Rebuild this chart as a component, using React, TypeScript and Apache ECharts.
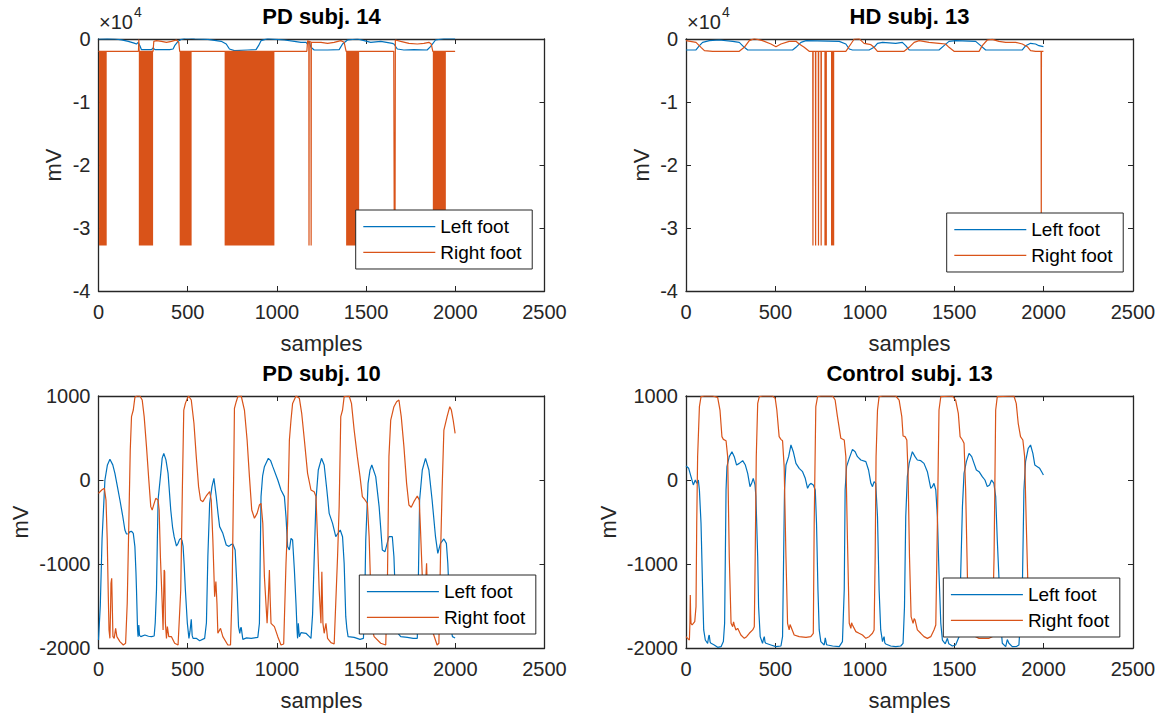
import React, { useEffect, useRef } from 'react';
import * as echarts from 'echarts';

const FONT = '"Liberation Sans", Arial, Helvetica, sans-serif';
const BLUE = '#0072BD';
const ORANGE = '#D95319';
const AX = '#262626';

const titles = ['PD subj. 14', 'HD subj. 13', 'PD subj. 10', 'Control subj. 13'];
const seriesNames = ['Left foot', 'Right foot'];
const xLabel = 'samples';
const yLabel = 'mV';
const xTicks = { min: 0, max: 2500, interval: 500 };
const yTicksTop = { min: -40000, max: 0, interval: 10000 };
const yTicksBottom = { min: -2000, max: 1000, interval: 1000 };
const topExponent = 4;

// PD subj. 14
const pd14Left: number[][] = [
  [0, 0], [50, 50], [92, 0], [130, -150], [167, -370], [200, -650], [213, -800], [222, -528], [232, -1058], [241, -1692],
  [297, -1692], [306, -1428], [316, -1692], [399, -1692], [418, -1586], [427, -1058], [446, -370], [465, -52], [492, 159],
  [539, 53], [613, -52], [688, -370], [716, -793], [734, -1586], [762, -1851], [837, -1745], [883, -1692], [897, -1058],
  [911, -264], [949, 53], [995, -52], [1042, -158], [1098, -370], [1135, -528], [1163, -528], [1172, -793], [1181, -370],
  [1191, -1322], [1209, -1745], [1284, -1745], [1349, -1692], [1368, -793], [1396, -158], [1451, 0], [1489, -264],
  [1526, -528], [1582, -370], [1647, -687], [1656, -793], [1675, -1586], [1712, -1745], [1768, -1692], [1842, -1745],
  [1861, -1216], [1889, -158], [1936, 53], [1999, 53],
];
const pd14Right: number[][] = [
  [0, -1950], [224, -1950], [226, -100], [228, -1950], [306, -1950], [310, -370], [325, -264], [353, -370], [381, -528],
  [409, -370], [437, -158], [450, -528], [455, -1950], [1168, -1950], [1172, -300], [1179, -370], [1180, -32768],
  [1181, -370], [1191, -480], [1192, -32768], [1193, -528], [1247, -528], [1284, -687], [1321, -528], [1358, -264],
  [1377, -528], [1388, -1950], [1655, -1950], [1658, -32768], [1662, -32768], [1664, -158], [1694, -370], [1740, -687],
  [1787, -793], [1824, -687], [1852, -528], [1865, -793], [1874, -1950], [1999, -1950],
];
const pd14Bursts: number[][] = [
  [3, 46, -1950, -32768], [226, 306, -1950, -32768], [455, 522, -1950, -32768], [707, 986, -1950, -32768],
  [1388, 1461, -1950, -32768], [1874, 1947, -1950, -32768],
];

// HD subj. 13
const hd13Left: number[][] = [
  [0, -1745], [56, -1745], [75, -1058], [93, -528], [131, -264], [186, -158], [261, -370], [298, -528], [326, -1322],
  [345, -1745], [596, -1745], [615, -1322], [643, -528], [671, -264], [857, -370], [894, -793], [913, -1586], [931, -1745],
  [1024, -1745], [1052, -1322], [1071, -687], [1099, -528], [1173, -687], [1210, -528], [1229, -1058], [1248, -1745],
  [1415, -1745], [1443, -1058], [1471, -370], [1508, -264], [1620, -370], [1648, -1058], [1676, -1745], [1881, -1745],
  [1900, -1058], [1927, -687], [1955, -793], [1974, -1058], [1999, -1216],
];
const hd13Right: number[][] = [
  [0, -264], [56, -528], [84, -1322], [103, -1851], [149, -1957], [298, -1957], [326, -1322], [354, -264], [382, 53],
  [428, -264], [475, -793], [503, -1216], [531, -793], [577, -370], [615, -370], [633, -793], [661, -1322], [689, -1957],
  [709, -1957], [710, -32768], [711, -1957], [724, -1957], [725, -32768], [726, -1957], [740, -1957], [741, -32768],
  [742, -1957], [755, -1957], [756, -32768], [757, -1957], [894, -1957], [922, -793], [941, 0], [968, 53], [996, -687],
  [1034, -899], [1052, -1322], [1071, -1957], [1220, -1957], [1248, -1322], [1276, -528], [1304, -264], [1359, -528],
  [1415, -687], [1452, -793], [1471, -1322], [1499, -1957], [1639, -1957], [1657, -1058], [1685, -158], [1713, -52],
  [1750, -370], [1788, -528], [1844, -528], [1881, -793], [1909, -1216], [1927, -1851], [1955, -1957], [1986, -1957],
  [1987, -32768], [1988, -1957], [1999, -1957],
];
const hd13Bursts: number[][] = [
  [774, 788, -1957, -32768], [811, 829, -1957, -32768],
];

// PD subj. 10
const pd10Left: number[][] = [
  [0, -1905], [10, -1500], [20, -700], [36, 0], [50, 180], [64, 246], [80, 180], [92, 79], [106, -80], [120, -238],
  [135, -420], [148, -595], [157, -643], [168, -640], [176, -615], [186, -612], [195, -635], [204, -793], [210, -1100],
  [213, -1310], [219, -1785], [222, -1865], [226, -1726], [230, -1850], [237, -1865], [260, -1845], [280, -1860],
  [297, -1865], [312, -1857], [318, -1700], [325, -1310], [330, -700], [334, -238], [349, 79], [357, 260], [366, 317],
  [378, 240], [390, 79], [405, -357], [415, -560], [424, -675], [437, -786], [446, -754], [454, -710], [461, -694],
  [468, -720], [474, -786], [480, -1000], [487, -1310], [498, -1706], [507, -1885], [513, -1800], [520, -1659],
  [525, -1850], [530, -1885], [548, -1885], [567, -1913], [595, -1885], [605, -1700], [613, -913], [623, -278],
  [636, -79], [647, 20], [660, -198], [670, -400], [679, -555], [697, -635], [716, -774], [731, -790], [742, -770],
  [753, -762], [766, -833], [772, -1100], [777, -1310], [785, -1746], [792, -1825], [797, -1760], [800, -1754],
  [809, -1897], [830, -1880], [856, -1885], [893, -1873], [902, -1706], [906, -1000], [911, -198], [920, 50], [930, 159],
  [952, 258], [965, 230], [977, 159], [1005, 0], [1023, -119], [1042, -198], [1051, -436], [1060, -793], [1070, -833],
  [1079, -694], [1088, -714], [1098, -1071], [1107, -1468], [1113, -1785], [1116, -1885], [1120, -1706], [1126, -1865],
  [1135, -1817], [1163, -1825], [1182, -1865], [1191, -1885], [1200, -1600], [1206, -1151], [1219, -238], [1232, 119],
  [1250, 258], [1265, 178], [1280, -119], [1293, -397], [1312, -516], [1330, -675], [1340, -643], [1355, -595],
  [1368, -675], [1377, -992], [1386, -1627], [1392, -1766], [1399, -1865], [1433, -1873], [1466, -1897], [1485, -1885],
  [1492, -1500], [1498, -714], [1511, -40], [1522, 120], [1532, 178], [1554, 40], [1573, -317], [1591, -833],
  [1606, -853], [1628, -675], [1647, -675], [1656, -913], [1668, -1627], [1679, -1825], [1694, -1865], [1731, -1873],
  [1764, -1885], [1787, -1885], [1792, -1310], [1800, -238], [1815, 119], [1833, 258], [1852, 119], [1870, -238],
  [1889, -675], [1902, -873], [1917, -754], [1936, -702], [1950, -754], [1958, -992], [1969, -1547], [1977, -1785],
  [1984, -1865], [1999, -1880],
];
const pd10Right: number[][] = [
  [0, -159], [18, -119], [33, -99], [42, -238], [49, -714], [55, -1389], [59, -1785], [64, -1885], [68, -1500],
  [70, -1230], [74, -1170], [77, -1468], [81, -1865], [88, -1885], [96, -1766], [103, -1865], [120, -1924], [139, -1964],
  [152, -1944], [161, -1468], [170, -516], [178, 356], [185, 754], [195, 833], [204, 984], [215, 1000], [232, 1000],
  [245, 952], [256, 754], [269, 397], [282, 0], [293, -317], [301, -357], [312, -278], [321, -218], [334, -238],
  [340, -357], [347, -913], [357, -1468], [362, -1785], [366, -1300], [368, -1071], [371, -1091], [375, -1706],
  [381, -1885], [386, -1746], [394, -1865], [409, -1865], [427, -1944], [446, -1964], [461, -1310], [470, -119],
  [478, 833], [487, 912], [498, 972], [505, 1000], [520, 952], [535, 675], [548, 278], [561, -79], [572, -238],
  [585, -258], [604, -190], [623, -139], [632, -238], [641, -714], [651, -1389], [658, -1210], [664, -1468],
  [669, -1825], [684, -1766], [697, -1865], [725, -1964], [740, -1964], [749, -1310], [759, 278], [762, 853], [772, 932],
  [781, 992], [800, 1000], [818, 833], [833, 476], [846, 40], [859, -357], [874, -456], [889, -397], [902, -298],
  [911, -278], [921, -516], [930, -1151], [945, -1706], [952, -1400], [958, -1071], [962, -1400], [967, -1706],
  [986, -1746], [1005, -1865], [1023, -1964], [1038, -1952], [1051, -992], [1060, -516], [1070, 476], [1079, 714],
  [1088, 912], [1107, 1000], [1126, 972], [1139, 794], [1154, 476], [1172, 79], [1191, -119], [1209, -139], [1219, -198],
  [1228, -714], [1237, -1310], [1247, -1706], [1250, -1300], [1252, -1091], [1255, -1400], [1258, -1706], [1265, -1825],
  [1275, -1706], [1284, -1885], [1303, -1936], [1321, -1952], [1340, -913], [1349, -317], [1358, 754], [1368, 833],
  [1377, 992], [1405, 1000], [1418, 912], [1433, 595], [1451, 278], [1466, 40], [1479, -198], [1494, -238],
  [1507, -278], [1517, -675], [1526, -1310], [1535, -1785], [1545, -1865], [1582, -1944], [1610, -1964], [1619, -1310],
  [1628, 278], [1638, 714], [1647, 794], [1656, 873], [1671, 932], [1684, 952], [1697, 754], [1712, 397], [1727, -40],
  [1740, -298], [1753, -325], [1768, -258], [1787, -190], [1798, -238], [1805, -595], [1815, -1151], [1824, -1706],
  [1832, -1300], [1839, -992], [1846, -1508], [1857, -1666], [1876, -1825], [1898, -1964], [1908, -1944], [1917, -913],
  [1926, -119], [1936, 595], [1945, 675], [1954, 754], [1969, 873], [1978, 833], [1988, 714], [1999, 555],
];

// Control subj. 13
const ctl13Left: number[][] = [
  [0, 166], [15, 139], [28, 40], [41, -59], [52, 0], [60, -40], [69, 0], [75, -119], [84, -516], [93, -1310],
  [99, -1785], [108, -1905], [121, -1944], [127, -1860], [130, -1845], [135, -1930], [140, -1944], [158, -1964],
  [177, -1992], [196, -1984], [209, -1924], [216, -1706], [220, -913], [224, -119], [229, 159], [242, 278], [257, 337],
  [270, 278], [283, 178], [298, 198], [317, 230], [332, 178], [345, 79], [358, -79], [367, -40], [376, 20], [386, -59],
  [391, -198], [401, -913], [406, -1508], [415, -1865], [428, -1944], [435, -1880], [438, -1865], [442, -1930],
  [447, -1944], [475, -1964], [503, -1984], [531, -1976], [540, -1865], [546, -913], [551, -119], [559, 178], [574, 278],
  [587, 417], [600, 337], [615, 198], [633, 139], [652, 99], [667, 20], [680, -99], [689, -59], [698, -40], [712, -59],
  [723, -119], [730, -516], [738, -1310], [745, -1785], [754, -1924], [773, -1964], [779, -1880], [782, -1885],
  [786, -1960], [792, -1964], [820, -1976], [857, -1984], [875, -1924], [885, -1310], [890, -119], [898, 159], [913, 258],
  [931, 365], [946, 337], [959, 278], [978, 238], [1006, 218], [1021, 119], [1034, -40], [1043, -79], [1052, -20],
  [1061, -40], [1071, -436], [1080, -1310], [1089, -1785], [1099, -1924], [1105, -1880], [1108, -1865], [1112, -1940],
  [1117, -1952], [1145, -1976], [1173, -1984], [1201, -1976], [1214, -1944], [1222, -1508], [1229, -436], [1238, 40],
  [1248, 198], [1266, 337], [1281, 278], [1294, 238], [1313, 230], [1331, 198], [1350, 99], [1369, -99], [1378, -79],
  [1387, -40], [1397, -119], [1406, -436], [1415, -1111], [1425, -1706], [1434, -1905], [1450, -1950], [1462, -1885],
  [1470, -1950], [1490, -1976], [1508, -1964], [1527, -1865], [1536, -1151], [1546, -317], [1555, 79], [1568, 218],
  [1583, 317], [1598, 278], [1611, 198], [1624, 119], [1639, 99], [1657, 40], [1672, 0], [1685, -79], [1698, -59],
  [1709, 0], [1722, -40], [1732, -198], [1741, -714], [1750, -1151], [1760, -1700], [1769, -1944], [1788, -1984],
  [1797, -1900], [1806, -1944], [1825, -1984], [1850, -1980], [1862, -1964], [1881, -1310], [1890, -119], [1899, 218],
  [1914, 377], [1927, 417], [1940, 317], [1951, 178], [1965, 159], [1978, 139], [1989, 99], [1999, 60],
];
const ctl13Right: number[][] = [
  [0, -1865], [9, -1885], [19, -1905], [22, -1700], [24, -1369], [26, -1600], [28, -1706], [34, -1726], [41, -1706],
  [49, -1686], [56, -1508], [60, -516], [65, 278], [75, 873], [84, 992], [103, 1000], [149, 1000], [177, 984], [190, 833],
  [201, 516], [209, 484], [224, 468], [233, 278], [242, -913], [252, -1706], [261, -1746], [266, -1690], [270, -1726],
  [279, -1785], [289, -1766], [307, -1845], [326, -1885], [339, -1865], [354, -1825], [373, -1785], [382, -1746],
  [387, -913], [393, 278], [401, 913], [410, 992], [428, 1000], [484, 1000], [499, 972], [508, 833], [521, 516],
  [531, 484], [540, 468], [549, 159], [559, -913], [568, -1706], [577, -1785], [582, -1720], [587, -1746], [605, -1845],
  [633, -1865], [671, -1873], [698, -1865], [712, -1825], [717, -516], [726, 873], [736, 992], [754, 1000], [820, 1000],
  [834, 952], [847, 754], [866, 496], [885, 476], [894, 278], [903, -714], [913, -1706], [922, -1766], [926, -1700],
  [931, -1726], [950, -1805], [968, -1825], [987, -1845], [1006, -1885], [1024, -1865], [1043, -1825], [1052, -1785],
  [1058, -913], [1063, 278], [1071, 833], [1080, 992], [1099, 1000], [1173, 1000], [1192, 952], [1207, 754], [1214, 524],
  [1225, 516], [1235, 476], [1242, 79], [1250, -913], [1259, -1627], [1270, -1706], [1276, -1650], [1281, -1666],
  [1294, -1785], [1313, -1825], [1331, -1865], [1350, -1885], [1369, -1865], [1387, -1785], [1397, -1726], [1406, -516],
  [1415, 833], [1425, 992], [1490, 1000], [1508, 952], [1523, 794], [1533, 516], [1546, 476], [1555, 437], [1564, -119],
  [1574, -1151], [1587, -1706], [1601, -1845], [1639, -1885], [1695, -1885], [1713, -1865], [1723, -913], [1732, 833],
  [1741, 992], [1834, 1000], [1847, 912], [1858, 675], [1871, 516], [1884, 476], [1894, 278], [1903, -516],
  [1911, -1151], [1918, -1706], [1927, -1785], [1950, -1820], [1974, -1845], [1999, -1865],
];

const panels = [
  { title: titles[0], left: pd14Left, right: pd14Right, bursts: pd14Bursts, y: yTicksTop, scaled: true,
    grid: { left: 98.5, top: 39, width: 446, height: 252 }, legend: { left: 355.7, top: 210 }, yNameGap: 34, exp: { x: 99, y: 22 } },
  { title: titles[1], left: hd13Left, right: hd13Right, bursts: hd13Bursts, y: yTicksTop, scaled: true,
    grid: { left: 686, top: 39, width: 447, height: 252 }, legend: { left: 946.7, top: 213 }, yNameGap: 34, exp: { x: 687, y: 22 } },
  { title: titles[2], left: pd10Left, right: pd10Right, bursts: [], y: yTicksBottom, scaled: false,
    grid: { left: 98.5, top: 396, width: 446, height: 252 }, legend: { left: 359.3, top: 575 }, yNameGap: 67, exp: null },
  { title: titles[3], left: ctl13Left, right: ctl13Right, bursts: [], y: yTicksBottom, scaled: false,
    grid: { left: 686, top: 396, width: 447, height: 252 }, legend: { left: 943.3, top: 578 }, yNameGap: 67, exp: null },
];

const LINE_ICON = 'path://M0,0H72V1.2H0Z';

function buildOption() {
  const grid: any[] = [];
  const xAxis: any[] = [];
  const yAxis: any[] = [];
  const series: any[] = [];
  const legend: any[] = [];
  const graphic: any[] = [];
  const tickStyle = { show: true, inside: true, length: 5, lineStyle: { color: AX, width: 1 } };
  const lineStyleAx = { show: true, onZero: false, lineStyle: { color: AX, width: 1.3 } };

  panels.forEach((p, i) => {
    grid.push({ ...p.grid, containLabel: false, show: false });
    xAxis.push({
      type: 'value', gridIndex: i, position: 'bottom', ...xTicks,
      axisLine: lineStyleAx, axisTick: tickStyle, splitLine: { show: false },
      axisLabel: { color: AX, fontSize: 20, fontFamily: FONT, margin: 11, formatter: (v: number) => String(v) },
      name: xLabel, nameLocation: 'middle', nameGap: 41,
      nameTextStyle: { color: AX, fontSize: 22, fontFamily: FONT },
    });
    xAxis.push({
      type: 'value', gridIndex: i, position: 'top', ...xTicks,
      axisLine: lineStyleAx, axisTick: tickStyle, splitLine: { show: false },
      axisLabel: { show: false },
      name: p.title, nameLocation: 'middle', nameGap: 12,
      nameTextStyle: { color: '#000', fontSize: 22, fontWeight: 'bold', fontFamily: FONT },
    });
    yAxis.push({
      type: 'value', gridIndex: i, position: 'left', ...p.y,
      axisLine: lineStyleAx, axisTick: tickStyle, splitLine: { show: false },
      axisLabel: {
        color: AX, fontSize: 20, fontFamily: FONT, margin: 8,
        formatter: p.scaled ? (v: number) => String(v / Math.pow(10, topExponent)) : (v: number) => String(v),
      },
      name: yLabel, nameLocation: 'middle', nameGap: p.yNameGap,
      nameTextStyle: { color: AX, fontSize: 22, fontFamily: FONT },
    });
    yAxis.push({
      type: 'value', gridIndex: i, position: 'right', ...p.y,
      axisLine: lineStyleAx, axisTick: tickStyle, splitLine: { show: false },
      axisLabel: { show: false },
    });
    const xi = i * 2;
    const yi = i * 2;
    series.push({
      name: seriesNames[0], type: 'line', xAxisIndex: xi, yAxisIndex: yi, data: p.left,
      showSymbol: false, symbol: 'none', clip: true, lineStyle: { color: BLUE, width: 1.2 }, itemStyle: { color: BLUE },
    });
    series.push({
      name: seriesNames[1], type: 'line', xAxisIndex: xi, yAxisIndex: yi, data: p.right,
      showSymbol: false, symbol: 'none', clip: true, lineStyle: { color: ORANGE, width: 1.2 }, itemStyle: { color: ORANGE },
    });
    if (p.bursts.length) {
      series.push({
        name: 'Right foot saturation', type: 'custom', xAxisIndex: xi, yAxisIndex: yi, data: p.bursts,
        encode: { x: [0, 1], y: [2, 3] },
        renderItem: (params: any, api: any) => {
          const a = api.coord([api.value(0), api.value(2)]);
          const b = api.coord([api.value(1), api.value(3)]);
          return {
            type: 'rect',
            shape: { x: a[0], y: a[1], width: b[0] - a[0], height: b[1] - a[1] },
            style: { fill: ORANGE },
          };
        },
      });
    }
    legend.push({
      data: seriesNames.map((n) => ({ name: n, icon: LINE_ICON })),
      orient: 'vertical', left: p.legend.left, top: p.legend.top,
      itemWidth: 72, itemHeight: 12, itemGap: 6.6, padding: [7.2, 10.6, 7.2, 7.6],
      backgroundColor: '#fff', borderColor: AX, borderWidth: 1, borderRadius: 0,
      textStyle: { color: '#000', fontSize: 19, lineHeight: 19, fontFamily: FONT },
      selectedMode: false,
    });
    if (p.exp) {
      graphic.push({
        type: 'text', left: p.exp.x, top: p.exp.y - 10,
        style: { text: '\u00d710', fontSize: 20, fontFamily: FONT, fill: AX },
      });
      graphic.push({
        type: 'text', left: p.exp.x + 35, top: p.exp.y - 17,
        style: { text: String(topExponent), fontSize: 14, fontFamily: FONT, fill: AX },
      });
    }
  });

  return {
    animation: false,
    backgroundColor: '#fff',
    grid, xAxis, yAxis, series, legend, graphic,
  };
}

export default function App() {
  const ref = useRef<HTMLDivElement>(null);
  useEffect(() => {
    if (!ref.current) return;
    const chart = echarts.init(ref.current, null, { renderer: 'svg' });
    chart.setOption(buildOption() as any);
    return () => chart.dispose();
  }, []);
  return (
    <div
      ref={ref}
      style={{ position: 'fixed', left: 0, top: 0, width: 1160, height: 717, background: '#fff' }}
    />
  );
}
